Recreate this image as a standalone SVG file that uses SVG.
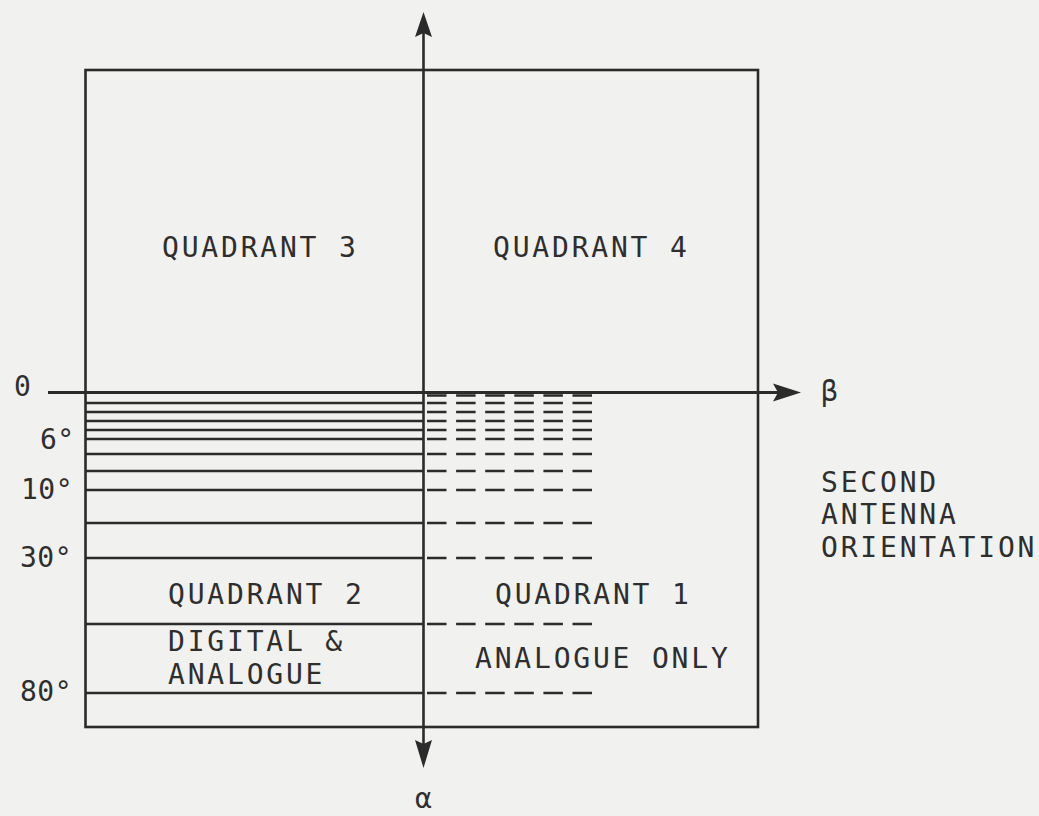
<svg xmlns="http://www.w3.org/2000/svg" width="1039" height="816" viewBox="0 0 1039 816">
<style>
.bg{fill:#f1f1ef}
.ln{stroke:#2b2b2b;fill:none}
.frame{stroke:#2b2b2b;stroke-width:2.6;fill:none}
.solid{stroke:#2b2b2b;stroke-width:2.3}
.dash{stroke:#2b2b2b;stroke-width:2.6;stroke-dasharray:19.5 9.6}
.ah{fill:#2b2b2b}
text{font-family:"DejaVu Sans Mono","Liberation Mono",monospace;font-size:28px;fill:#2e2e2e;letter-spacing:2.8px}
.g{letter-spacing:0.5px}
</style>
<rect class="bg" x="0" y="0" width="1039" height="816"/>
<g id="frame">
<rect class="frame" x="85.5" y="70" width="672.5" height="657"/>
</g>
<g id="rows-left">
<line class="solid" x1="86" y1="403" x2="423" y2="403"/>
<line class="solid" x1="86" y1="412" x2="423" y2="412"/>
<line class="solid" x1="86" y1="421" x2="423" y2="421"/>
<line class="solid" x1="86" y1="430" x2="423" y2="430"/>
<line class="solid" x1="86" y1="439" x2="423" y2="439"/>
<line class="solid" x1="86" y1="454" x2="423" y2="454"/>
<line class="solid" x1="86" y1="471" x2="423" y2="471"/>
<line class="solid" x1="86" y1="490" x2="423" y2="490"/>
<line class="solid" x1="86" y1="523" x2="423" y2="523"/>
<line class="solid" x1="86" y1="558" x2="423" y2="558"/>
<line class="solid" x1="86" y1="624" x2="423" y2="624"/>
<line class="solid" x1="86" y1="693" x2="423" y2="693"/>
</g>
<g id="rows-right">
<line class="dash" x1="427" y1="395.5" x2="592" y2="395.5"/>
<line class="dash" x1="427" y1="403" x2="592" y2="403"/>
<line class="dash" x1="427" y1="412" x2="592" y2="412"/>
<line class="dash" x1="427" y1="421" x2="592" y2="421"/>
<line class="dash" x1="427" y1="430" x2="592" y2="430"/>
<line class="dash" x1="427" y1="439" x2="592" y2="439"/>
<line class="dash" x1="427" y1="454" x2="592" y2="454"/>
<line class="dash" x1="427" y1="471" x2="592" y2="471"/>
<line class="dash" x1="427" y1="490" x2="592" y2="490"/>
<line class="dash" x1="427" y1="523" x2="592" y2="523"/>
<line class="dash" x1="427" y1="558" x2="592" y2="558"/>
<line class="dash" x1="427" y1="624" x2="592" y2="624"/>
<line class="dash" x1="427" y1="693" x2="592" y2="693"/>
</g>
<g id="connectors">
<line class="ln" x1="423.5" y1="30" x2="423.5" y2="748" stroke-width="2.6"/>
<polygon class="ah" points="423.5,12 432,37 423.5,33 415,37"/>
<polygon class="ah" points="423.5,768 432,740 423.5,744 415,740"/>
<line class="ln" x1="48" y1="392.5" x2="780" y2="392.5" stroke-width="3"/>
<polygon class="ah" points="801,392.5 773,383.5 778,392.5 773,401.5"/>
</g>
<g id="quadrant-3"><text x="162" y="257">QUADRANT 3</text></g>
<g id="quadrant-4"><text x="493" y="257">QUADRANT 4</text></g>
<g id="quadrant-2">
<text x="168" y="604">QUADRANT 2</text>
<text x="168" y="651">DIGITAL &amp;</text>
<text x="168" y="684">ANALOGUE</text>
</g>
<g id="quadrant-1">
<text x="495" y="604">QUADRANT 1</text>
<text x="475" y="668">ANALOGUE ONLY</text>
</g>
<g id="axis-labels">
<text x="14" y="396">0</text>
<text x="40" y="449" class="g">6°</text>
<text x="21" y="499" class="g">10°</text>
<text x="20" y="567" class="g">30°</text>
<text x="20" y="701" class="g">80°</text>
<text x="821" y="401">β</text>
<text x="415" y="808">α</text>
</g>
<g id="second-antenna">
<text x="821" y="492">SECOND</text>
<text x="821" y="524">ANTENNA</text>
<text x="821" y="557">ORIENTATION</text>
</g>
</svg>
